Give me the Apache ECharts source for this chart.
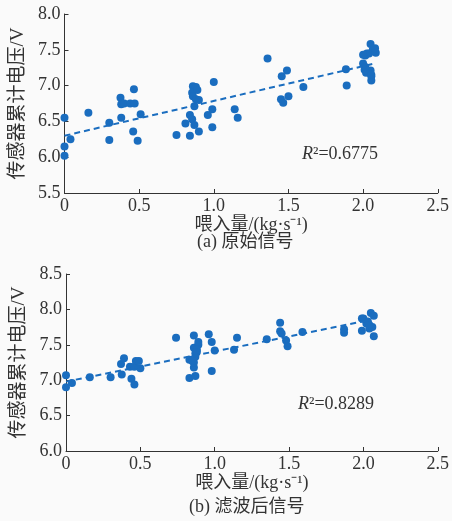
<!DOCTYPE html>
<html><head><meta charset="utf-8">
<script src="https://cdn.jsdelivr.net/npm/echarts@6/dist/echarts.min.js"></script>
<style>html,body{margin:0;padding:0;background:#fafafa}#c{width:452px;height:521px}</style>
</head><body><div id="c"></div>
<script>
// (a) raw signal
const xA = [0,0,0,0.04,0.16,0.30,0.30,0.375,0.38,0.40,0.38,0.44,0.47,0.465,0.46,0.49,0.51,0.75,0.84,0.81,0.84,0.855,0.87,0.87,0.86,0.88,0.855,0.89,0.86,0.88,0.90,0.90,0.96,0.99,0.99,1.0,1.14,1.16,1.36,1.455,1.49,1.45,1.465,1.50,1.60,1.885,1.89,2.0,2.01,2.015,2.04,2.05,2.065,2.085,2.02,2.05,2.055,2.055,2.025,2.015,2.0,2.08,2.055];
const yA = [6.55,6.15,6.02,6.25,6.62,6.48,6.24,6.83,6.74,6.75,6.55,6.75,6.75,6.95,6.36,6.23,6.60,6.31,6.30,6.47,6.59,6.53,6.45,6.71,6.99,6.98,6.90,6.94,6.85,6.81,6.80,6.36,6.59,6.67,6.42,7.05,6.67,6.55,7.38,7.13,7.21,6.81,6.76,6.85,6.98,7.23,7.00,7.31,7.22,7.42,7.45,7.58,7.50,7.46,7.18,7.21,7.13,7.07,7.45,7.26,7.43,7.52,7.15];
const fitAx = [0, 2.08];
const fitAy = [6.30, 7.31];
// (b) filtered signal
const xB = [0,0,0.04,0.16,0.30,0.37,0.39,0.375,0.43,0.46,0.47,0.49,0.50,0.44,0.46,0.74,0.83,0.87,0.86,0.86,0.83,0.85,0.86,0.87,0.89,0.89,0.88,0.96,0.98,1.0,0.98,0.86,0.87,0.85,0.88,1.15,1.13,1.35,1.44,1.44,1.45,1.48,1.49,1.59,1.87,1.87,1.99,1.99,2.02,2.05,2.07,2.04,2.07,2.0,2.03,2.06,2.04];
const yB = [7.07,6.90,6.96,7.04,7.04,7.23,7.31,7.08,7.19,7.19,7.27,7.27,7.17,7.02,6.94,7.60,7.03,7.06,7.18,7.63,7.29,7.29,7.46,7.38,7.50,7.54,7.43,7.65,7.54,7.42,7.13,7.25,7.33,7.27,7.40,7.60,7.43,7.58,7.81,7.69,7.66,7.56,7.48,7.68,7.72,7.67,7.87,7.70,7.80,7.95,7.91,7.73,7.62,7.87,7.83,7.75,7.78];
const fitBx = [0, 2.02];
const fitBy = [6.98, 7.84];

const xTicks = [0, 0.5, 1.0, 1.5, 2.0, 2.5];
const yTicksA = [5.5, 6.0, 6.5, 7.0, 7.5, 8.0];
const yTicksB = [6.0, 6.5, 7.0, 7.5, 8.0, 8.5];
const xName = '喂入量/(kg·s⁻¹)';
const yName = '传感器累计电压/V';
const captionA = '(a) 原始信号';
const captionB = '(b) 滤波后信号';
const r2A = '0.6775', r2B = '0.8289';

const C = '#1a6dbf';
const FONT = '"Liberation Serif","Noto Sans CJK SC",serif';
const zip = (a,b) => a.map((v,i)=>[v,b[i]]);

function xAxis(idx){
  return {gridIndex: idx, type:'value', min:xTicks[0], max:xTicks[xTicks.length-1], interval:0.5,
    axisLine:{lineStyle:{color:'#333',width:1}},
    axisTick:{inside:true,length:4,lineStyle:{color:'#333'}},
    splitLine:{show:false},
    axisLabel:{color:'#333',fontFamily:FONT,fontSize:18,margin:4,formatter:v=>v===0?'0':v.toFixed(1)},
    name:xName,nameLocation:'middle',nameGap:17,nameTextStyle:{color:'#333',fontFamily:FONT,fontSize:18}};
}
function yAxis(idx, ticks){
  return {gridIndex: idx, type:'value', min:ticks[0], max:ticks[ticks.length-1], interval:0.5,
    axisLine:{show:true,lineStyle:{color:'#333',width:1}},
    axisTick:{show:true,inside:true,length:4,lineStyle:{color:'#333'}},
    splitLine:{show:false},
    axisLabel:{color:'#333',fontFamily:FONT,fontSize:18,margin:4,formatter:v=>v.toFixed(1)},
    name:yName,nameLocation:'middle',nameGap:34,nameTextStyle:{color:'#333',fontFamily:FONT,fontSize:19}};
}
const chart = echarts.init(document.getElementById('c'));
chart.setOption({
  backgroundColor:'#fafafa',
  animation:false,
  grid:[{left:64.5,top:14,width:375,height:179},{left:66,top:274,width:375,height:177}],
  xAxis:[xAxis(0),xAxis(1)],
  yAxis:[yAxis(0,yTicksA),yAxis(1,yTicksB)],
  series:[
    {type:'scatter',xAxisIndex:0,yAxisIndex:0,data:zip(xA,yA),symbolSize:8,itemStyle:{color:C,opacity:1}},
    {type:'line',xAxisIndex:0,yAxisIndex:0,data:zip(fitAx,fitAy),symbol:'none',lineStyle:{color:C,width:2,type:[6,4]}},
    {type:'scatter',xAxisIndex:1,yAxisIndex:1,data:zip(xB,yB),symbolSize:8,itemStyle:{color:C,opacity:1}},
    {type:'line',xAxisIndex:1,yAxisIndex:1,data:zip(fitBx,fitBy),symbol:'none',lineStyle:{color:C,width:2,type:[6,4]}}
  ],
  graphic:[
    {type:'text',left:302,top:145,style:{text:'{i|R}²='+r2A,fontFamily:FONT,fontSize:18,fill:'#333',rich:{i:{fontStyle:'italic',fontFamily:FONT,fontSize:18}}}},
    {type:'text',left:298,top:395,style:{text:'{i|R}²='+r2B,fontFamily:FONT,fontSize:18,fill:'#333',rich:{i:{fontStyle:'italic',fontFamily:FONT,fontSize:18}}}},
    {type:'text',left:197,top:233,style:{text:captionA,fontFamily:FONT,fontSize:18,fill:'#333'}},
    {type:'text',left:189,top:498,style:{text:captionB,fontFamily:FONT,fontSize:18,fill:'#333'}}
  ]
});
</script></body></html>
